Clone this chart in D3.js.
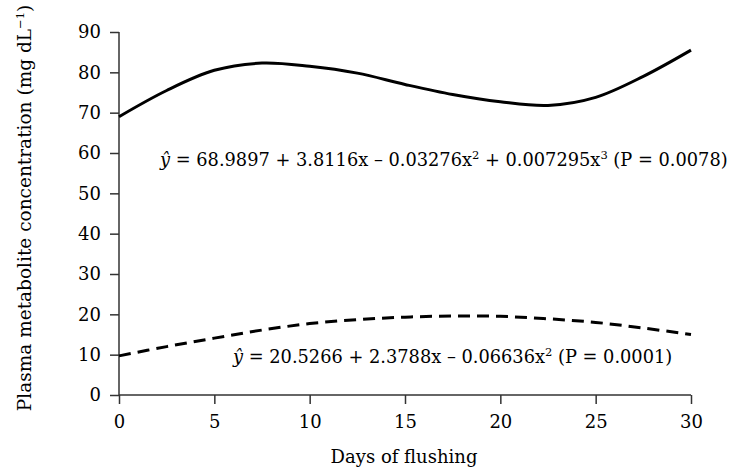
<!DOCTYPE html>
<html>
<head>
<meta charset="utf-8">
<script src="https://cdn.jsdelivr.net/npm/d3@7"></script>
<style>
  body { margin: 0; background: #fff; }
  text { font-family: "DejaVu Serif", serif; fill: #000; }
</style>
</head>
<body>
<div id="chart"></div>
<script>
var days = [0, 2.5, 5, 7.5, 10, 12.5, 15, 17.5, 20, 22.5, 25, 27.5, 30];
var glucose = [69.0, 75.5, 80.5, 82.3, 81.5, 79.8, 77.0, 74.5, 72.7, 71.8, 73.8, 79.0, 85.5];
var urea = [9.7, 12.0, 14.1, 16.1, 17.7, 18.7, 19.3, 19.6, 19.5, 18.9, 18.0, 16.6, 15.0];
var xTicks = [0, 5, 10, 15, 20, 25, 30];
var yTicks = [0, 10, 20, 30, 40, 50, 60, 70, 80, 90];

var svgWidth = 729;
var svgHeight = 468;
var margin = { top: 32, right: 38, bottom: 73, left: 119 };
var width = svgWidth - margin.left - margin.right;
var height = svgHeight - margin.top - margin.bottom;

var svg = d3.select("#chart")
  .append("svg")
  .attr("width", svgWidth)
  .attr("height", svgHeight);

var chart = svg.append("g")
  .attr("transform", `translate(${margin.left}, ${margin.top})`);

var x = d3.scaleLinear().domain([0, 30]).range([0, width]);
var y = d3.scaleLinear().domain([0, 90]).range([height, 0]);

// axes
var xAxis = d3.axisBottom(x).tickValues(xTicks).tickSize(9).tickPadding(11);
var yAxis = d3.axisLeft(y).tickValues(yTicks).tickSize(9).tickPadding(9);

var gx = chart.append("g")
  .attr("transform", "translate(0," + height + ")")
  .call(xAxis);
var gy = chart.append("g").call(yAxis);

[gx, gy].forEach(function(g) {
  g.select(".domain").attr("stroke", "#333").attr("stroke-width", 1.5);
  g.selectAll(".tick line").attr("stroke", "#333").attr("stroke-width", 1.5);
  g.selectAll(".tick text")
    .style("font-family", "DejaVu Serif")
    .style("font-size", "18px")
    .attr("fill", "#000");
});
gx.select(".domain").attr("d", "M0,0H" + width);
gy.select(".domain").attr("d", "M0," + height + "V0");

// curves
var line = d3.line()
  .x(function(d, i) { return x(days[i]); })
  .y(function(d) { return y(d); })
  .curve(d3.curveCatmullRom);

chart.append("path")
  .datum(glucose)
  .attr("d", line)
  .attr("fill", "none")
  .attr("stroke", "#000")
  .attr("stroke-width", 3);

chart.append("path")
  .datum(urea)
  .attr("d", line)
  .attr("fill", "none")
  .attr("stroke", "#000")
  .attr("stroke-width", 3)
  .attr("stroke-dasharray", "12,7");

// equations
function plain(t, s) {
  t.append("tspan").text(s);
}
function sup(t, s) {
  t.append("tspan").attr("baseline-shift", "super").style("font-size", "11.5px").text(s);
}
function eqText(px, py) {
  var t = svg.append("text")
    .attr("x", px)
    .attr("y", py)
    .style("font-size", "17.8px");
  t.append("tspan").style("font-style", "italic").text("ŷ");
  return t;
}

var eq1 = eqText(160, 166);
plain(eq1, " = 68.9897 + 3.8116x – 0.03276x");
sup(eq1, "2");
plain(eq1, " + 0.007295x");
sup(eq1, "3");
plain(eq1, " (P = 0.0078)");

var eq2 = eqText(233, 363);
plain(eq2, " = 20.5266 + 2.3788x – 0.06636x");
sup(eq2, "2");
plain(eq2, " (P = 0.0001)");

// axis titles
svg.append("text")
  .attr("x", 404)
  .attr("y", 463)
  .attr("text-anchor", "middle")
  .style("font-size", "18px")
  .text("Days of flushing");

var yl = svg.append("text")
  .attr("transform", "translate(31," + 208 + ") rotate(-90)")
  .attr("text-anchor", "middle")
  .style("font-size", "18.5px");
plain(yl, "Plasma metabolite concentration (mg dL");
sup(yl, "−1");
plain(yl, ")");
</script>
</body>
</html>
